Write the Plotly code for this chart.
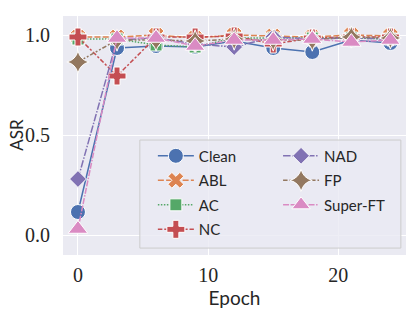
import plotly.graph_objects as go

epochs = [0, 3, 6, 9, 12, 15, 18, 21, 24]
clean = [0.115, 0.935, 0.945, 0.94, 0.97, 0.935, 0.915, 0.975, 0.96]
abl = [0.99, 0.99, 1.0, 0.985, 1.0, 0.995, 0.99, 1.0, 0.995]
ac = [0.98, 0.98, 0.95, 0.94, 0.985, 0.985, 0.985, 0.985, 0.98]
nc = [0.99, 0.795, 0.99, 0.99, 0.995, 0.955, 0.985, 0.99, 0.99]
nad = [0.28, 0.975, 0.985, 0.955, 0.94, 0.99, 0.98, 0.985, 0.98]
fp = [0.865, 0.975, 0.975, 0.97, 0.98, 0.975, 0.975, 0.99, 0.985]
superft = [0.03, 0.985, 0.985, 0.945, 0.975, 0.975, 0.98, 0.965, 0.975]

names = ["Clean", "ABL", "AC", "NC", "NAD", "FP", "Super-FT"]
series = [clean, abl, ac, nc, nad, fp, superft]
colors = ["#4C72B0", "#DD8452", "#55A868", "#C44E52", "#8172B3", "#937860", "#DA8BC3"]
symbols = ["circle", "x", "square", "cross", "diamond", "star-diamond", "triangle-up"]
dashes = ["solid", "6px,2.25px", "1.5px,1.5px", "4.5px,1.9px,2.25px,1.9px",
          "7.5px,1.5px,1.5px,1.5px", "4.5px,1.9px,1.9px,1.9px,1.9px,1.9px",
          "6px,1.5px,6px,1.5px,1.5px,1.5px"]
sizes = [15, 14, 12, 15, 13, 16, 17]

fig = go.Figure()
for i, (n, s) in enumerate(zip(names, series)):
    fig.add_trace(go.Scatter(
        x=epochs, y=s, name=n, mode="lines+markers",
        line=dict(color=colors[i], width=1.5, dash=dashes[i]),
        marker=dict(symbol=symbols[i], size=sizes[i], color=colors[i],
                    line=dict(color="white", width=1)),
        legend="legend" if i < 4 else "legend2",
        legendgroup=n,
    ))

tickfont = dict(family="Liberation Serif", size=20, color="#262626")
legfont = dict(size=15, family="Lato", color="#262626")
fig.update_layout(
    width=407, height=303,
    margin=dict(l=55, r=9, t=8, b=56),
    paper_bgcolor="white", plot_bgcolor="#EAEAF2",
    font=dict(family="Lato", size=15, color="#262626"),
    showlegend=True,
    legend=dict(x=0.262, y=0.483, xanchor="left", yanchor="top",
                bgcolor="rgba(0,0,0,0)", font=legfont, itemwidth=36,
                tracegroupgap=2, itemsizing="trace"),
    legend2=dict(x=0.627, y=0.483, xanchor="left", yanchor="top",
                 bgcolor="rgba(0,0,0,0)", font=legfont, itemwidth=36,
                 tracegroupgap=2, itemsizing="trace"),
    xaxis=dict(range=[-1.15, 25.2], tickvals=[0, 10, 20], ticktext=["0", "10", "20"],
               showgrid=True, gridcolor="white", gridwidth=1.2, zeroline=False,
               automargin=False,
               tickfont=tickfont, ticks="outside", ticklen=2, tickcolor="rgba(0,0,0,0)",
               title=dict(text="Epoch", font=dict(family="Lato", size=19, color="#262626"),
                          standoff=2)),
    yaxis=dict(range=[-0.1, 1.095], tickvals=[0, 0.5, 1.0], ticktext=["0.0", "0.5", "1.0"],
               showgrid=True, gridcolor="white", gridwidth=1.2, zeroline=False,
               automargin=False,
               tickfont=tickfont, ticks="outside", ticklen=8, tickcolor="rgba(0,0,0,0)"),
)
fig.add_annotation(text="ASR", xref="paper", yref="paper", x=-0.138, y=0.502,
                   textangle=-90, showarrow=False, xanchor="center", yanchor="middle",
                   font=dict(family="Lato", size=17, color="#262626"))
fig.add_shape(type="rect", xref="paper", yref="paper", x0=0.224, x1=0.985, y0=0.029, y1=0.481,
              line=dict(color="#CCCCCC", width=1), fillcolor="rgba(234,234,242,0.8)",
              layer="above")
fig.write_html("out.html")
